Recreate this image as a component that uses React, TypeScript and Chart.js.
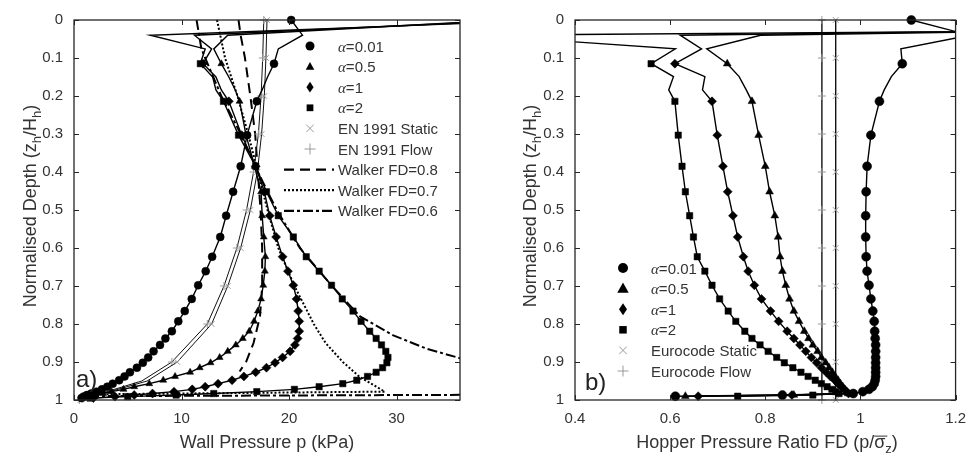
import React, { useEffect, useRef } from "react";
import { Chart, registerables } from "chart.js";
Chart.register(...registerables);

const FONT = '"Liberation Sans", Arial, Helvetica, sans-serif';
const SERIF = '"Liberation Serif", "Times New Roman", serif';
const TEXT = "#333333";
const AXIS = "#262626";
const GRAY = "#9a9a9a";

// ---------------- Panel a) Wall pressure ----------------
const DEPTH_A = [0, 0.04, 0.076, 0.115, 0.15, 0.184, 0.214, 0.303, 0.385, 0.452, 0.515, 0.571, 0.623, 0.661, 0.698, 0.734, 0.766, 0.793, 0.819, 0.838, 0.855, 0.872, 0.888, 0.902, 0.915, 0.927, 0.938, 0.948, 0.957, 0.965, 0.972, 0.978, 0.983, 0.987, 0.991, 0.995];
const UNMARKED_A = [0.04, 0.076, 0.15, 0.184];
const WALL_A001 = [20.2, 21.25, 19.0, 18.6, 18.0, 17.5, 17.0, 16.1, 15.5, 14.8, 14.15, 13.6, 12.85, 12.25, 11.55, 10.95, 10.3, 9.7, 9.1, 8.5, 8.0, 7.4, 6.9, 6.4, 5.85, 5.2, 4.7, 4.2, 3.6, 3.1, 2.6, 2.1, 1.6, 1.2, 0.9, 0.7];
const WALL_A05 = [40, 14.3, 13.0, 13.7, 14.4, 15.0, 15.4, 16.0, 16.8, 17.4, 17.5, 17.65, 17.8, 17.75, 17.6, 17.4, 17.1, 16.75, 16.3, 15.7, 15.05, 14.3, 13.55, 12.7, 11.7, 10.8, 9.4, 8.3, 7.0, 5.6, 4.6, 3.5, 2.7, 2.0, 1.4, 1.0];
const WALL_A1 = [42, 11.2, 12.8, 12.0, 13.2, 13.7, 14.4, 15.6, 16.9, 17.7, 18.2, 18.8, 19.4, 19.9, 20.4, 20.7, 20.85, 20.95, 20.95, 20.8, 20.55, 20.1, 19.4, 18.7, 17.9, 16.9, 15.8, 14.7, 13.4, 12.2, 11.0, 9.3, 7.3, 5.6, 3.8, 1.8];
const WALL_A2 = [45, 7.1, 12.2, 11.75, 12.9, 13.2, 13.9, 15.3, 16.9, 17.9, 19.0, 20.4, 21.6, 22.8, 23.95, 24.95, 25.95, 26.7, 27.5, 28.1, 28.6, 29.0, 29.2, 29.1, 28.7, 28.1, 27.3, 26.3, 25.0, 22.8, 20.5, 17.0, 13.0, 9.5, 5.0, 1.5];

const EN_DEPTH = [0, 0.1, 0.2, 0.3, 0.4, 0.5, 0.6, 0.7, 0.8, 0.9, 0.95, 1.0];
const EN_UNMARKED = [0.95];
const EN_STATIC_A = [17.95, 17.85, 17.7, 17.45, 17.05, 16.4, 15.5, 14.3, 12.8, 9.6, 6.8, 0.6];
const EN_FLOW_A = [17.65, 17.55, 17.4, 17.15, 16.7, 16.05, 15.15, 13.95, 12.4, 9.1, 6.3, 0.5];

const W08_DEPTH = [0, 0.04, 0.1, 0.2, 0.3, 0.4, 0.5, 0.6, 0.7, 0.78, 0.85, 0.9, 0.925];
const W08 = [15.3, 15.5, 15.9, 16.4, 16.85, 17.1, 17.35, 17.5, 17.5, 17.3, 16.7, 16.0, 15.4];
const W07_DEPTH = [0, 0.1, 0.2, 0.3, 0.4, 0.5, 0.6, 0.7, 0.8, 0.85, 0.9, 0.94, 0.978, 0.985];
const W07 = [13.3, 14.05, 15.2, 16.2, 17.1, 18.0, 19.0, 20.5, 22.3, 23.4, 25.0, 26.6, 28.9, 2.0];
const W06_DEPTH = [0, 0.076, 0.1, 0.2, 0.3, 0.4, 0.5, 0.6, 0.7, 0.78, 0.83, 0.865, 0.89, 0.93, 0.985, 0.99];
const W06 = [11.4, 11.85, 12.2, 13.7, 15.5, 17.1, 18.85, 21.0, 24.0, 26.6, 29.7, 32.8, 35.9, 45, 50, 1.0];

const X_TICKS_A = [0, 10, 20, 30];
const X_RANGE_A = [0, 35.9];

// ---------------- Panel b) Hopper pressure ratio ----------------
const DEPTH_B = [0, 0.025, 0.04, 0.076, 0.115, 0.149, 0.184, 0.214, 0.303, 0.385, 0.452, 0.515, 0.571, 0.623, 0.661, 0.698, 0.734, 0.766, 0.793, 0.819, 0.838, 0.855, 0.872, 0.888, 0.902, 0.915, 0.927, 0.938, 0.948, 0.957, 0.965, 0.972, 0.978, 0.983, 0.987, 0.99];
const UNMARKED_B = [0.025, 0.04, 0.076, 0.149, 0.184];
const RATIO_B001 = [1.107, null, 1.23, 1.085, 1.088, 1.065, 1.05, 1.04, 1.022, 1.014, 1.012, 1.011, 1.011, 1.012, 1.014, 1.018, 1.022, 1.026, 1.029, 1.03, 1.031, 1.032, 1.032, 1.032, 1.032, 1.032, 1.032, 1.032, 1.031, 1.029, 1.025, 1.018, 1.005, 0.985, 0.836, 0.611];
const RATIO_B05 = [null, 1.6, 0.79, 0.677, 0.72, 0.745, 0.76, 0.772, 0.786, 0.8, 0.809, 0.82, 0.827, 0.831, 0.836, 0.843, 0.851, 0.86, 0.871, 0.882, 0.891, 0.9, 0.91, 0.918, 0.927, 0.934, 0.941, 0.947, 0.953, 0.958, 0.963, 0.967, 0.971, 0.974, 0.86, 0.632];
const RATIO_B1 = [null, 1.6, 0.621, 0.666, 0.61, 0.673, 0.668, 0.688, 0.699, 0.711, 0.721, 0.732, 0.742, 0.754, 0.764, 0.777, 0.792, 0.811, 0.828, 0.846, 0.86, 0.873, 0.885, 0.897, 0.908, 0.918, 0.928, 0.937, 0.946, 0.953, 0.96, 0.966, 0.971, 0.975, 0.856, 0.659];
const RATIO_B2 = [null, 1.8, 0.2, 0.611, 0.56, 0.607, 0.597, 0.61, 0.617, 0.625, 0.632, 0.641, 0.649, 0.657, 0.673, 0.688, 0.704, 0.722, 0.738, 0.757, 0.772, 0.789, 0.806, 0.824, 0.84, 0.858, 0.875, 0.89, 0.905, 0.918, 0.93, 0.94, 0.948, 0.955, 0.9, 0.742];

const EC_DEPTH = [0, 0.1, 0.2, 0.3, 0.4, 0.5, 0.6, 0.7, 0.8, 0.9, 1.0];
const EC_STATIC_B = [0.948, 0.948, 0.948, 0.948, 0.948, 0.948, 0.948, 0.948, 0.948, 0.948, 0.948];
const EC_FLOW_B = [0.919, 0.919, 0.919, 0.919, 0.919, 0.919, 0.919, 0.919, 0.919, 0.919, 0.919];

const X_TICKS_B = [0.4, 0.6, 0.8, 1, 1.2];
const X_RANGE_B = [0.4, 1.2];

const Y_TICKS = [0, 0.1, 0.2, 0.3, 0.4, 0.5, 0.6, 0.7, 0.8, 0.9, 1];

// ---------------- helpers ----------------
type Seg = { t: string; sub?: boolean; over?: boolean; greek?: boolean };

function toPoints(xs: (number | null)[], ds: number[], unmarked: number[]) {
  const out: { x: number; y: number; m: boolean }[] = [];
  xs.forEach((x, i) => {
    if (x === null || x === undefined) return;
    out.push({ x, y: ds[i], m: !unmarked.includes(ds[i]) });
  });
  return out;
}

function segFont(s: Seg, size: number) {
  const sz = s.sub ? Math.round(size * 0.72) : size;
  return s.greek ? `italic ${sz}px ${SERIF}` : `${sz}px ${FONT}`;
}

function drawRich(ctx: CanvasRenderingContext2D, segs: Seg[], x: number, y: number, size: number, align: "left" | "center") {
  const widths = segs.map((s) => {
    ctx.font = segFont(s, size);
    return ctx.measureText(s.t).width;
  });
  const total = widths.reduce((a, b) => a + b, 0);
  let cx = align === "center" ? x - total / 2 : x;
  ctx.textAlign = "left";
  ctx.textBaseline = "alphabetic";
  segs.forEach((s, i) => {
    ctx.font = segFont(s, size);
    const dy = s.sub ? size * 0.3 : 0;
    ctx.fillText(s.t, cx, y + dy);
    if (s.over) {
      ctx.beginPath();
      ctx.lineWidth = 1;
      ctx.strokeStyle = ctx.fillStyle as string;
      ctx.moveTo(cx, y - size * 0.66);
      ctx.lineTo(cx + widths[i] + 2, y - size * 0.66);
      ctx.stroke();
    }
    cx += widths[i];
  });
}

function drawMarker(ctx: CanvasRenderingContext2D, style: string, x: number, y: number, r: number, color: string) {
  ctx.save();
  ctx.fillStyle = color;
  ctx.strokeStyle = color;
  ctx.lineWidth = 1;
  ctx.beginPath();
  if (style === "circle") {
    ctx.arc(x, y, r, 0, Math.PI * 2);
    ctx.fill();
  } else if (style === "triangle") {
    ctx.moveTo(x, y - r);
    ctx.lineTo(x + r * 0.95, y + r * 0.7);
    ctx.lineTo(x - r * 0.95, y + r * 0.7);
    ctx.closePath();
    ctx.fill();
  } else if (style === "rectRot") {
    ctx.moveTo(x, y - r * 1.2);
    ctx.lineTo(x + r * 0.8, y);
    ctx.lineTo(x, y + r * 1.2);
    ctx.lineTo(x - r * 0.8, y);
    ctx.closePath();
    ctx.fill();
  } else if (style === "rect") {
    ctx.rect(x - r * 0.75, y - r * 0.75, r * 1.5, r * 1.5);
    ctx.fill();
  } else if (style === "crossRot") {
    const k = r * 0.75;
    ctx.moveTo(x - k, y - k);
    ctx.lineTo(x + k, y + k);
    ctx.moveTo(x + k, y - k);
    ctx.lineTo(x - k, y + k);
    ctx.stroke();
  } else if (style === "cross") {
    ctx.moveTo(x - r, y);
    ctx.lineTo(x + r, y);
    ctx.moveTo(x, y - r);
    ctx.lineTo(x, y + r);
    ctx.stroke();
  }
  ctx.restore();
}

type LegendItem = { segs: Seg[]; marker?: string; r?: number; color?: string; dash?: number[] };

type PanelSpec = {
  xTitle: Seg[];
  xTitlePos: [number, number];
  yTitle: Seg[];
  yTitlePos: [number, number];
  legend: LegendItem[];
  legendMarkerX: number;
  legendTextX: number;
  legendY0: number;
  legendStep: number;
  lineX: [number, number];
  label: string;
  labelPos: [number, number];
};

function makePanelPlugin(spec: PanelSpec) {
  return {
    id: "panelDecor",
    afterDraw(chart: any) {
      const { ctx, chartArea: ca, scales } = chart;
      ctx.save();
      // box
      ctx.strokeStyle = AXIS;
      ctx.lineWidth = 1.3;
      ctx.setLineDash([]);
      ctx.strokeRect(ca.left, ca.top, ca.right - ca.left, ca.bottom - ca.top);
      // inward ticks on all sides
      const tl = 5;
      ctx.beginPath();
      scales.x.ticks.forEach((t: any) => {
        const px = Math.round(scales.x.getPixelForValue(t.value)) + 0.5;
        ctx.moveTo(px, ca.bottom);
        ctx.lineTo(px, ca.bottom - tl);
        ctx.moveTo(px, ca.top);
        ctx.lineTo(px, ca.top + tl);
      });
      scales.y.ticks.forEach((t: any) => {
        const py = Math.round(scales.y.getPixelForValue(t.value)) + 0.5;
        ctx.moveTo(ca.left, py);
        ctx.lineTo(ca.left + tl, py);
        ctx.moveTo(ca.right, py);
        ctx.lineTo(ca.right - tl, py);
      });
      ctx.lineWidth = 1;
      ctx.stroke();

      // axis titles
      ctx.fillStyle = TEXT;
      ctx.strokeStyle = TEXT;
      drawRich(ctx, spec.xTitle, spec.xTitlePos[0], spec.xTitlePos[1], 18, "center");
      ctx.save();
      ctx.translate(spec.yTitlePos[0], spec.yTitlePos[1]);
      ctx.rotate(-Math.PI / 2);
      drawRich(ctx, spec.yTitle, 0, 6, 18, "center");
      ctx.restore();

      // legend
      spec.legend.forEach((item, i) => {
        const y = spec.legendY0 + i * spec.legendStep;
        if (item.dash) {
          ctx.save();
          ctx.beginPath();
          ctx.strokeStyle = "#000";
          ctx.lineWidth = 2.2;
          ctx.setLineDash(item.dash);
          ctx.moveTo(spec.lineX[0], y);
          ctx.lineTo(spec.lineX[1], y);
          ctx.stroke();
          ctx.restore();
        } else if (item.marker) {
          drawMarker(ctx, item.marker, spec.legendMarkerX, y, item.r || 4, item.color || "#000");
        }
        ctx.fillStyle = TEXT;
        drawRich(ctx, item.segs, spec.legendTextX, y + 5.5, 15, "left");
      });

      // panel label
      ctx.fillStyle = "#222";
      ctx.font = `24px ${FONT}`;
      ctx.textAlign = "left";
      ctx.textBaseline = "alphabetic";
      ctx.fillText(spec.label, spec.labelPos[0], spec.labelPos[1]);
      ctx.restore();
    },
  };
}

const CLIP = { left: 0, right: 0, top: 8, bottom: 8 };

function alphaSet(label: string, pts: any[], style: string, r: number) {
  return {
    label,
    data: pts,
    showLine: true,
    borderColor: "#000",
    borderWidth: 1.4,
    pointStyle: style,
    pointRadius: (c: any) => (c.raw && c.raw.m ? r : 0),
    pointHoverRadius: 0,
    pointBackgroundColor: "#000",
    pointBorderColor: "#000",
    pointBorderWidth: 0.5,
    clip: CLIP,
  };
}

function codeSet(label: string, pts: any[], style: string) {
  return {
    label,
    data: pts,
    showLine: true,
    borderColor: "#111",
    borderWidth: 1,
    pointStyle: style,
    pointRadius: (c: any) => (c.raw && c.raw.m ? 4 : 0),
    pointHoverRadius: 0,
    pointBackgroundColor: GRAY,
    pointBorderColor: GRAY,
    pointBorderWidth: 1,
    clip: CLIP,
  };
}

function walkerSet(label: string, pts: any[], dash: number[]) {
  return {
    label,
    data: pts,
    showLine: true,
    borderColor: "#000",
    borderWidth: 2,
    borderDash: dash,
    pointRadius: 0,
    pointHoverRadius: 0,
    clip: CLIP,
  };
}

function baseOptions(xRange: number[], xTicks: number[], yWidth: number, padRight: number, spec: PanelSpec) {
  const tickFont = { family: FONT, size: 15 };
  const noGrid = { display: false, drawTicks: false, tickLength: 0 };
  return {
    type: "scatter",
    data: { datasets: [] as any[] },
    plugins: [makePanelPlugin(spec)],
    options: {
      animation: false,
      responsive: false,
      devicePixelRatio: 1,
      events: [],
      layout: { padding: { left: 0, right: padRight, top: 14, bottom: 0 } },
      plugins: { legend: { display: false }, tooltip: { enabled: false } },
      scales: {
        x: {
          type: "linear",
          min: xRange[0],
          max: xRange[1],
          afterBuildTicks: (s: any) => {
            s.ticks = xTicks.map((v) => ({ value: v }));
          },
          afterFit: (s: any) => {
            s.height = 61;
          },
          grid: noGrid,
          border: { display: false },
          ticks: { font: tickFont, color: TEXT, padding: 10, maxRotation: 0, callback: (v: any) => String(v) },
        },
        y: {
          type: "linear",
          min: 0,
          max: 1,
          reverse: true,
          afterBuildTicks: (s: any) => {
            s.ticks = Y_TICKS.map((v) => ({ value: v }));
          },
          afterFit: (s: any) => {
            s.width = yWidth;
          },
          grid: noGrid,
          border: { display: false },
          ticks: { font: tickFont, color: TEXT, padding: 11, callback: (v: any) => String(v) },
        },
      },
    },
  };
}

const Y_TITLE: Seg[] = [{ t: "Normalised Depth (z" }, { t: "h", sub: true }, { t: "/H" }, { t: "h", sub: true }, { t: ")" }];

function configA() {
  const spec: PanelSpec = {
    xTitle: [{ t: "Wall Pressure p (kPa)" }],
    xTitlePos: [267, 448],
    yTitle: Y_TITLE,
    yTitlePos: [30, 206],
    legend: [
      { segs: [{ t: "α", greek: true }, { t: "=0.01" }], marker: "circle", r: 4.5 },
      { segs: [{ t: "α", greek: true }, { t: "=0.5" }], marker: "triangle", r: 4.5 },
      { segs: [{ t: "α", greek: true }, { t: "=1" }], marker: "rectRot", r: 4.5 },
      { segs: [{ t: "α", greek: true }, { t: "=2" }], marker: "rect", r: 4.5 },
      { segs: [{ t: "EN 1991 Static" }], marker: "crossRot", r: 5, color: GRAY },
      { segs: [{ t: "EN 1991 Flow" }], marker: "cross", r: 5.5, color: GRAY },
      { segs: [{ t: "Walker FD=0.8" }], dash: [10, 6] },
      { segs: [{ t: "Walker FD=0.7" }], dash: [2, 2] },
      { segs: [{ t: "Walker FD=0.6" }], dash: [10, 3, 3, 3] },
    ],
    legendMarkerX: 310,
    legendTextX: 338,
    legendY0: 46,
    legendStep: 20.6,
    lineX: [284, 334],
    label: "a)",
    labelPos: [76, 387],
  };
  const cfg: any = baseOptions(X_RANGE_A, X_TICKS_A, 74, 28, spec);
  cfg.data.datasets = [
    alphaSet("α=0.01", toPoints(WALL_A001, DEPTH_A, UNMARKED_A), "circle", 4),
    alphaSet("α=0.5", toPoints(WALL_A05, DEPTH_A, UNMARKED_A), "triangle", 4),
    alphaSet("α=1", toPoints(WALL_A1, DEPTH_A, UNMARKED_A), "rectRot", 4.5),
    alphaSet("α=2", toPoints(WALL_A2, DEPTH_A, UNMARKED_A), "rect", 4.5),
    codeSet("EN 1991 Static", toPoints(EN_STATIC_A, EN_DEPTH, EN_UNMARKED), "crossRot"),
    codeSet("EN 1991 Flow", toPoints(EN_FLOW_A, EN_DEPTH, EN_UNMARKED), "cross"),
    walkerSet("Walker FD=0.8", toPoints(W08, W08_DEPTH, []), [10, 6]),
    walkerSet("Walker FD=0.7", toPoints(W07, W07_DEPTH, []), [2, 2]),
    walkerSet("Walker FD=0.6", toPoints(W06, W06_DEPTH, []), [10, 3, 3, 3]),
  ];
  return cfg;
}

function configB() {
  const spec: PanelSpec = {
    xTitle: [{ t: "Hopper Pressure Ratio FD (p/" }, { t: "σ", over: true }, { t: "z", sub: true }, { t: ")" }],
    xTitlePos: [279, 448],
    yTitle: Y_TITLE,
    yTitlePos: [42, 206],
    legend: [
      { segs: [{ t: "α", greek: true }, { t: "=0.01" }], marker: "circle", r: 5 },
      { segs: [{ t: "α", greek: true }, { t: "=0.5" }], marker: "triangle", r: 6 },
      { segs: [{ t: "α", greek: true }, { t: "=1" }], marker: "rectRot", r: 5 },
      { segs: [{ t: "α", greek: true }, { t: "=2" }], marker: "rect", r: 5 },
      { segs: [{ t: "Eurocode Static" }], marker: "crossRot", r: 5, color: GRAY },
      { segs: [{ t: "Eurocode Flow" }], marker: "cross", r: 5.5, color: GRAY },
    ],
    legendMarkerX: 135,
    legendTextX: 163,
    legendY0: 268,
    legendStep: 20.6,
    lineX: [0, 0],
    label: "b)",
    labelPos: [97, 390],
  };
  const cfg: any = baseOptions(X_RANGE_B, X_TICKS_B, 87, 15, spec);
  cfg.data.datasets = [
    alphaSet("α=0.01", toPoints(RATIO_B001, DEPTH_B, UNMARKED_B), "circle", 4.5),
    alphaSet("α=0.5", toPoints(RATIO_B05, DEPTH_B, UNMARKED_B), "triangle", 4.5),
    alphaSet("α=1", toPoints(RATIO_B1, DEPTH_B, UNMARKED_B), "rectRot", 4.5),
    alphaSet("α=2", toPoints(RATIO_B2, DEPTH_B, UNMARKED_B), "rect", 4.5),
    codeSet("Eurocode Static", toPoints(EC_STATIC_B, EC_DEPTH, []), "crossRot"),
    codeSet("Eurocode Flow", toPoints(EC_FLOW_B, EC_DEPTH, []), "cross"),
  ];
  cfg.data.datasets[4].borderWidth = 1.4;
  cfg.data.datasets[5].borderWidth = 1.4;
  return cfg;
}

function Panel({ make, left }: { make: () => any; left: number }) {
  const ref = useRef<HTMLCanvasElement>(null);
  useEffect(() => {
    if (!ref.current) return;
    const chart = new Chart(ref.current, make());
    return () => chart.destroy();
  }, [make]);
  return (
    <canvas
      ref={ref}
      width={488}
      height={461}
      style={{ position: "absolute", left, top: 0, width: 488, height: 461 }}
    />
  );
}

export default function App() {
  return (
    <div style={{ position: "absolute", left: 0, top: 0, width: 976, height: 461, background: "#fff", overflow: "hidden" }}>
      <Panel make={configA} left={0} />
      <Panel make={configB} left={488} />
    </div>
  );
}
